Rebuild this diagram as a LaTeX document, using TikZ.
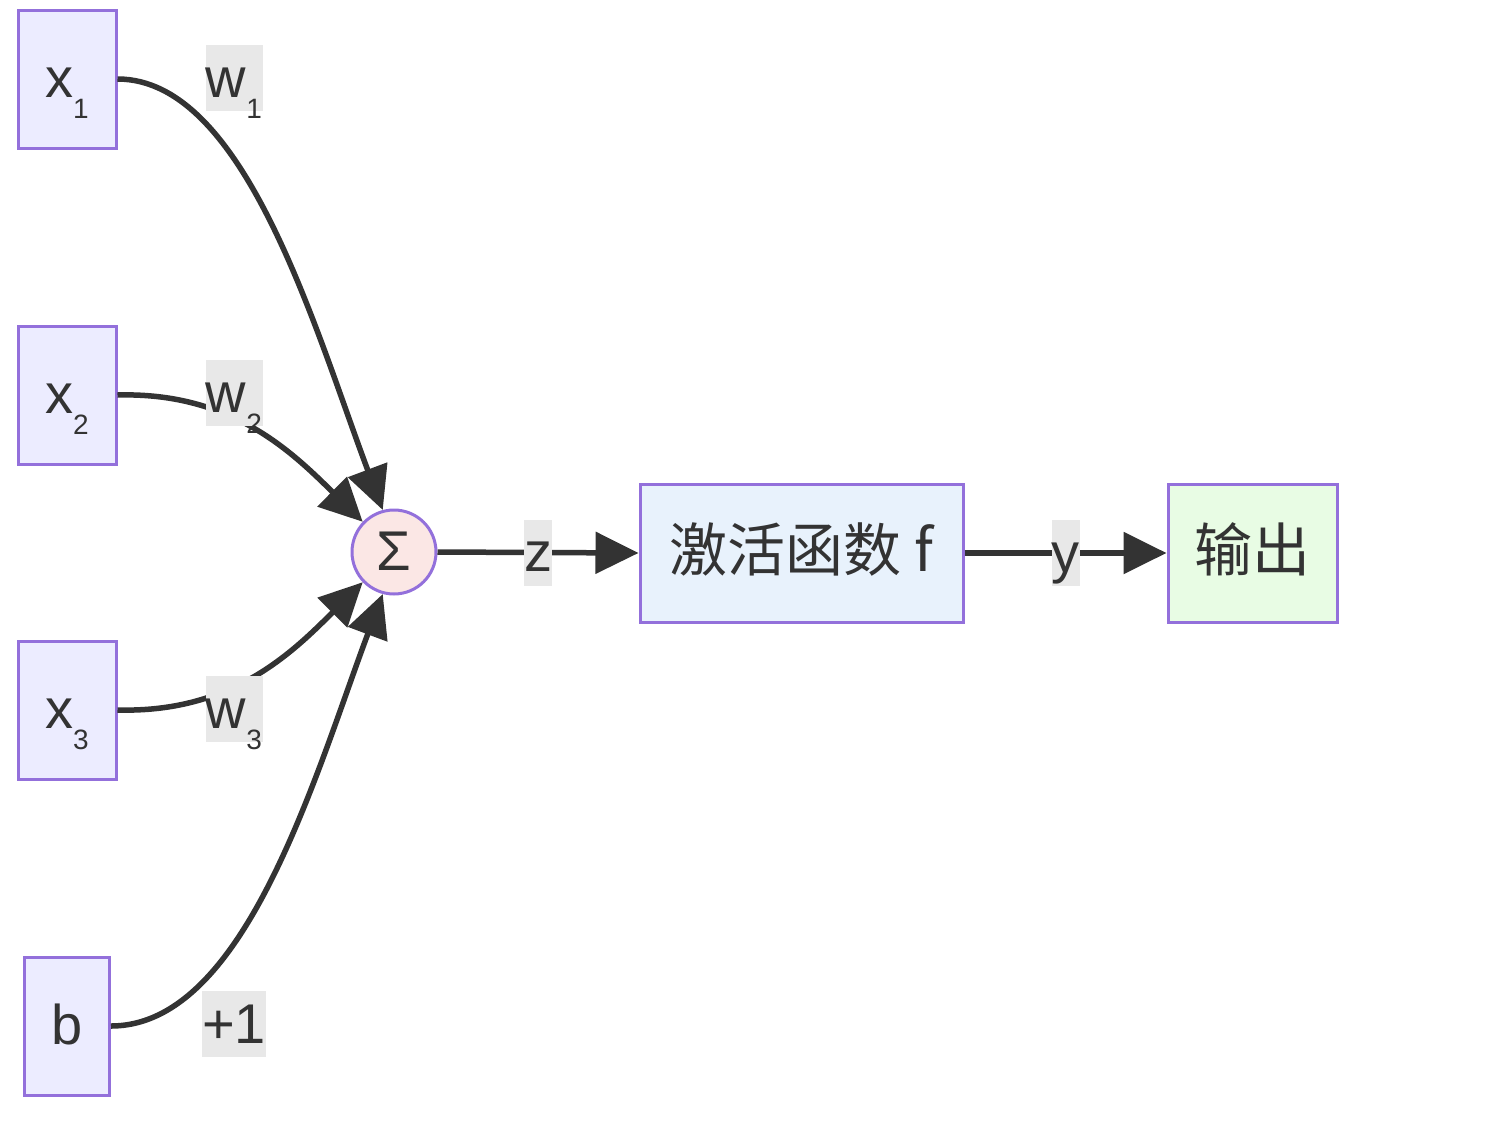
\documentclass[tikz,border=0pt]{standalone}
\usepackage{fontspec}
\setmainfont{Liberation Sans}
\newfontfamily\cjk{Noto Sans CJK SC}
\usetikzlibrary{arrows.meta}
\definecolor{ink}{HTML}{333333}
\definecolor{bord}{HTML}{9370DB}
\definecolor{inbg}{HTML}{ECECFF}
\definecolor{sigbg}{HTML}{FBE7E5}
\definecolor{actbg}{HTML}{E8F2FC}
\definecolor{outbg}{HTML}{E8FCE4}
\definecolor{lblbg}{HTML}{E8E8E8}
\newcommand\subd[1]{\raisebox{-21pt}{\fontsize{28}{28}\selectfont #1}}
\tikzset{
  base/.style={font=\fontsize{56}{60}\selectfont, text=ink, inner sep=0pt,
    text height=50pt, text depth=14pt},
  box/.style={base, draw=bord, line width=3pt, minimum height=138pt},
  inbox/.style={box, fill=inbg, minimum width=98pt},
  cjkbox/.style={box, font=\fontsize{58}{62}\selectfont\cjk},
  sigbox/.style={base, circle, draw=bord, line width=3pt, fill=sigbg, minimum size=84pt},
  lbl/.style={base, fill=lblbg, minimum height=66pt, text height=50pt, text depth=12pt},
  edge/.style={draw=ink, line width=5.5pt, -{Triangle[length=43pt,width=41pt]}}
}
\begin{document}
\begin{tikzpicture}[x=1pt,y=-1pt]
\useasboundingbox (0,0) rectangle (1510,1130);
\node[inbox] (x1) at (67,79) {x\subd{1}};
\node[inbox] (x2) at (67,395) {x\subd{2}};
\node[inbox] (x3) at (67,710) {x\subd{3}};
\node[inbox, minimum width=85pt] (b) at (67,1026) {b};
\node[sigbox] (sig) at (394,552) {Σ};
\node[cjkbox, fill=actbg, minimum width=323pt] (act) at (801.5,553) {激活函数 f};
\node[cjkbox, fill=outbg, minimum width=169pt] (out) at (1252.5,553) {输出};

\draw[edge] (x1.east) .. controls (245,79) and (315,330) .. (sig.105);
\draw[edge] (x2.east) .. controls (230,392) and (290,450) .. (sig.136);
\draw[edge] (x3.east) .. controls (230,713) and (290,655) .. (sig.224);
\draw[edge] (b.east) .. controls (245,1026) and (315,775) .. (sig.255);
\draw[edge] (sig.east) -- node[lbl, minimum width=26pt] (lz) {z} (act.west);
\draw[edge] (act.east) -- node[lbl, minimum width=27pt] (ly) {y} (out.west);

\node[lbl, minimum width=57pt] (lw1) at (234,78) {w\subd{1}};
\node[lbl, minimum width=57pt] (lw2) at (234,393) {w\subd{2}};
\node[lbl, minimum width=57pt] (lw3) at (234,709) {w\subd{3}};
\node[lbl, minimum width=58pt] (lb) at (234,1024) {+1};
\end{tikzpicture}
\end{document}
